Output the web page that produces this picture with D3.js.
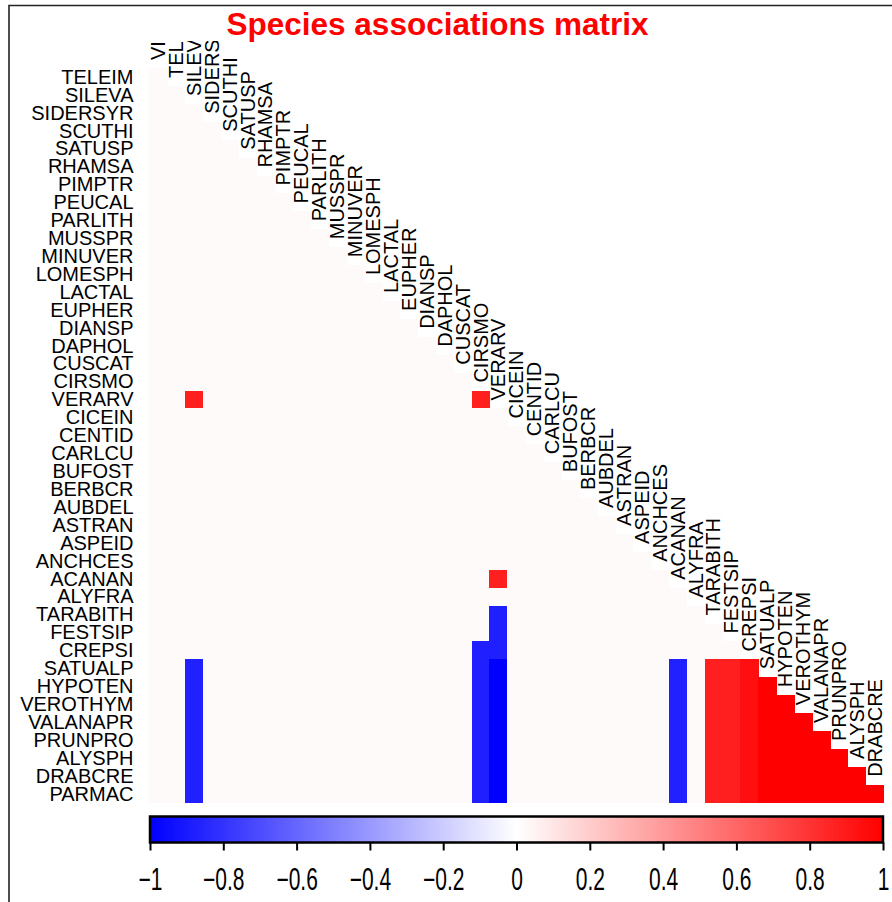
<!DOCTYPE html>
<meta charset="utf-8">
<script src="https://d3js.org/d3.v7.min.js"></script>
<style>
  body { margin: 0; background: #fff; }
  text { font-family: "Liberation Sans", Arial, sans-serif; }
</style>
<div id="chart"></div>
<script>
  // species, first one only appears as a column
  var species = ["VI", "TELEIM", "SILEVA", "SIDERSYR", "SCUTHI", "SATUSP", "RHAMSA", "PIMPTR", "PEUCAL",
    "PARLITH", "MUSSPR", "MINUVER", "LOMESPH", "LACTAL", "EUPHER", "DIANSP", "DAPHOL", "CUSCAT", "CIRSMO",
    "VERARV", "CICEIN", "CENTID", "CARLCU", "BUFOST", "BERBCR", "AUBDEL", "ASTRAN", "ASPEID", "ANCHCES",
    "ACANAN", "ALYFRA", "TARABITH", "FESTSIP", "CREPSI", "SATUALP", "HYPOTEN", "VEROTHYM", "VALANAPR",
    "PRUNPRO", "ALYSPH", "DRABCRE", "PARMAC"];
  var rowLabels = species.slice(1);
  var colLabels = species.slice(0, species.length - 1);

  // value of all the other (non significant) cells
  var baseline = 0.02;

  // isolated associations [row, column, value]
  var singles = [
    ["VERARV", "SILEVA", 0.88],
    ["VERARV", "CIRSMO", 0.88],
    ["ACANAN", "VERARV", 0.88],
    ["TARABITH", "VERARV", -0.88],
    ["FESTSIP", "VERARV", -0.88],
    ["CREPSI", "VERARV", -0.88],
    ["CREPSI", "CIRSMO", -0.88]
  ];

  // bottom block
  var blockRows = ["SATUALP", "HYPOTEN", "VEROTHYM", "VALANAPR", "PRUNPRO", "ALYSPH", "DRABCRE", "PARMAC"];
  var blockCols = ["SILEVA", "CIRSMO", "VERARV", "ACANAN", "TARABITH", "FESTSIP", "CREPSI",
    "SATUALP", "HYPOTEN", "VEROTHYM", "VALANAPR", "PRUNPRO", "ALYSPH", "DRABCRE"];
  var blockValues = [
    [-0.87, -0.88, -1, -0.87, 0.88, 0.88, 0.94],
    [-0.87, -0.88, -1, -0.87, 0.88, 0.88, 0.94, 1],
    [-0.87, -0.88, -1, -0.87, 0.88, 0.88, 0.94, 1, 1],
    [-0.87, -0.88, -1, -0.87, 0.88, 0.88, 0.94, 1, 1, 1],
    [-0.87, -0.88, -1, -0.87, 0.88, 0.88, 0.94, 1, 1, 1, 1],
    [-0.87, -0.88, -1, -0.87, 0.88, 0.88, 0.94, 1, 1, 1, 1, 1],
    [-0.87, -0.88, -1, -0.87, 0.88, 0.88, 0.94, 1, 1, 1, 1, 1, 1],
    [-0.87, -0.88, -1, -0.87, 0.88, 0.88, 0.94, 1, 1, 1, 1, 1, 1, 1]
  ];

  var legendTicks = [-1, -0.8, -0.6, -0.4, -0.2, 0, 0.2, 0.4, 0.6, 0.8, 1];

  var W = 892, H = 902;
  var svg = d3.select("#chart").append("svg")
    .attr("width", W).attr("height", H);

  // frame
  svg.append("path")
    .attr("d", "M9,902 V5.5 H892")
    .attr("fill", "none").attr("stroke", "#222").attr("stroke-width", 1.6);

  var x = d3.scaleBand().domain(colLabels).range([149, 149 + 41 * 17.92]);
  var y = d3.scaleBand().domain(rowLabels).range([68, 68 + 41 * 17.92]);
  var color = d3.scaleLinear().domain([-1, 0, 1]).range(["#0000ff", "#ffffff", "#ff0000"]);

  // build lower triangle cells
  var lookup = {};
  singles.forEach(function (d) { lookup[d[0] + "|" + d[1]] = d[2]; });
  blockRows.forEach(function (r, i) {
    blockValues[i].forEach(function (v, j) { lookup[r + "|" + blockCols[j]] = v; });
  });
  var cells = [];
  rowLabels.forEach(function (r, i) {
    for (var j = 0; j <= i; j++) {
      var k = r + "|" + colLabels[j];
      cells.push({ row: r, col: colLabels[j], value: k in lookup ? lookup[k] : baseline });
    }
  });

  svg.append("g").attr("shape-rendering", "crispEdges")
    .selectAll("rect")
    .data(cells)
    .enter().append("rect")
    .attr("x", function (d) { return x(d.col); })
    .attr("y", function (d) { return y(d.row); })
    .attr("width", x.bandwidth() + 0.6)
    .attr("height", y.bandwidth() + 0.6)
    .attr("fill", function (d) { return color(d.value); });

  // row labels
  svg.append("g").selectAll("text")
    .data(rowLabels)
    .enter().append("text")
    .attr("x", 133.5)
    .attr("y", function (d) { return y(d) + y.bandwidth() / 2; })
    .attr("dy", "0.34em")
    .attr("text-anchor", "end")
    .attr("font-size", 20)
    .attr("fill", "#000")
    .text(function (d) { return d; });

  // column labels along the diagonal
  svg.append("clipPath").attr("id", "clipTop")
    .append("rect").attr("x", 0).attr("y", 41).attr("width", W).attr("height", H);

  svg.append("g").attr("clip-path", "url(#clipTop)")
    .selectAll("text")
    .data(colLabels)
    .enter().append("text")
    .attr("transform", function (d, i) {
      var cx = x(d) + x.bandwidth() / 2;
      var cy = y.range()[0] + (i - 0.5) * y.step() + 1;
      return "translate(" + cx + "," + cy + ") rotate(-90)";
    })
    .attr("dy", "0.35em")
    .attr("font-size", 20)
    .attr("fill", "#000")
    .text(function (d) { return d; });

  // title
  svg.append("text")
    .attr("x", 437.5).attr("y", 35)
    .attr("text-anchor", "middle")
    .attr("font-size", 31.5).attr("font-weight", "bold")
    .attr("fill", "#ff0000")
    .text("Species associations matrix");

  // colour legend
  var lx = d3.scaleLinear().domain([-1, 1]).range([150, 883]);
  var grad = svg.append("defs").append("linearGradient").attr("id", "legGrad");
  legendTicks.forEach(function (t) {
    grad.append("stop")
      .attr("offset", ((t + 1) / 2 * 100) + "%")
      .attr("stop-color", color(t));
  });
  svg.append("rect")
    .attr("x", lx(-1)).attr("y", 816.5)
    .attr("width", lx(1) - lx(-1)).attr("height", 26)
    .attr("fill", "url(#legGrad)")
    .attr("stroke", "#000").attr("stroke-width", 2.5);

  var axis = svg.append("g")
    .attr("transform", "translate(0,842.5)")
    .call(d3.axisBottom(lx).tickValues(legendTicks).tickSize(8)
      .tickFormat(function (d) { return d === 0 ? "0" : d3.format("")(d).replace("-", "\u2212"); }));
  axis.select(".domain").remove();
  axis.selectAll(".tick line").attr("stroke", "#000").attr("stroke-width", 2);
  axis.selectAll(".tick text")
    .attr("y", 0).attr("dy", 0)
    .attr("transform", "translate(0,47) scale(1,1.5)")
    .attr("font-size", 21)
    .attr("font-family", "\"Liberation Sans\", Arial, sans-serif")
    .attr("fill", "#000");
</script>
